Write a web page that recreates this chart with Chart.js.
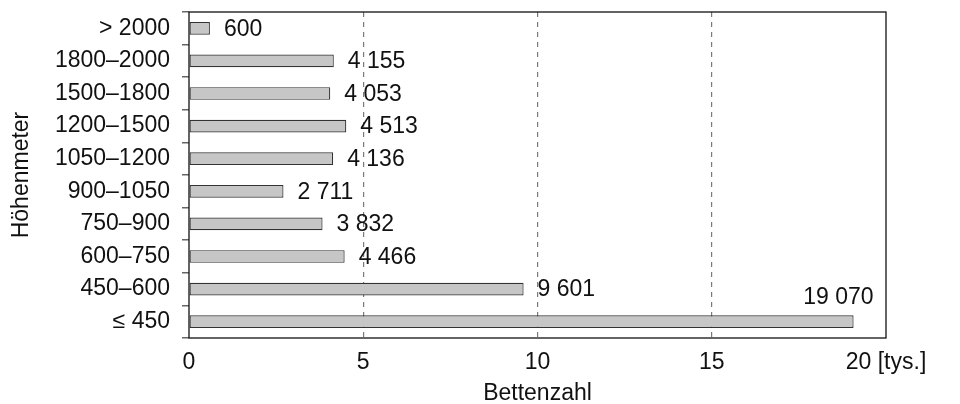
<!DOCTYPE html>
<html lang="de">
<head>
  <meta charset="UTF-8">
  <title>Bettenzahl nach Höhenmeter</title>
  <script src="https://cdn.jsdelivr.net/npm/chart.js"></script>
  <style>
    html, body { margin: 0; padding: 0; background: #fff; }
    .grafico { width: 960px; height: 404px; }
  </style>
</head>
<body>
  <div class="grafico">
    <canvas id="graficoBetten" width="960" height="404"></canvas>
  </div>

  <script>
    // Kategorien von oben nach unten
    const hoehen = ['> 2000', '1800–2000', '1500–1800', '1200–1500', '1050–1200',
      '900–1050', '750–900', '600–750', '450–600', '≤ 450'];
    // Bettenzahl in Tausend
    const betten = [0.600, 4.155, 4.053, 4.513, 4.136, 2.711, 3.832, 4.466, 9.601, 19.070];
    const xTicks = [0, 5, 10, 15, 20];

    const schrift = "'Liberation Sans', Arial, sans-serif";
    const groesse = 23;

    function formatZahl(v) {
      return Math.round(v * 1000).toString().replace(/\B(?=(\d{3})+(?!\d))/g, ' ');
    }

    // Rahmen um die Zeichenfläche
    const rahmen = {
      id: 'rahmen',
      afterDraw(chart) {
        const { ctx, chartArea: a } = chart;
        ctx.save();
        ctx.strokeStyle = '#111';
        ctx.lineWidth = 1.3;
        ctx.strokeRect(a.left, a.top, a.right - a.left, a.bottom - a.top);
        ctx.restore();
      }
    };

    // Werte neben den Balken
    const werte = {
      id: 'werte',
      afterDatasetsDraw(chart) {
        const { ctx, chartArea: a } = chart;
        const meta = chart.getDatasetMeta(0);
        ctx.save();
        ctx.font = groesse + 'px ' + schrift;
        ctx.fillStyle = '#111';
        ctx.textBaseline = 'middle';
        meta.data.forEach((bar, i) => {
          const txt = formatZahl(betten[i]);
          const w = ctx.measureText(txt).width;
          if (bar.x + 15 + w > a.right) {
            ctx.textAlign = 'right';
            ctx.fillText(txt, bar.x + 20, bar.y - 24);
          } else {
            ctx.textAlign = 'left';
            ctx.fillText(txt, bar.x + 14, bar.y + 1);
          }
        });
        ctx.restore();
      }
    };

    const ctx = document.getElementById('graficoBetten');
    new Chart(ctx, {
      type: 'bar',
      data: {
        labels: hoehen,
        datasets: [{
          data: betten,
          backgroundColor: '#c6c6c6',
          borderColor: '#333',
          borderWidth: 1.2,
          borderSkipped: false,
          categoryPercentage: 1,
          barPercentage: 0.39
        }]
      },
      options: {
        indexAxis: 'y',
        responsive: false,
        animation: false,
        devicePixelRatio: 1,
        layout: { padding: { left: 0, right: 74, top: 12, bottom: 0 } },
        plugins: {
          legend: { display: false },
          tooltip: { enabled: false }
        },
        scales: {
          x: {
            min: 0,
            max: 20,
            afterBuildTicks: (s) => { s.ticks = xTicks.map(v => ({ value: v })); },
            afterFit: (s) => { s.height = 66; s.paddingLeft = 0; s.paddingRight = 0; },
            border: { display: false, dash: [5, 5] },
            grid: {
              drawTicks: false,
              color: (c) => (c.tick && (c.tick.value === 0 || c.tick.value === 20)) ? 'rgba(0,0,0,0)' : '#7a7a7a',
              lineWidth: 1.2
            },
            ticks: {
              color: '#111',
              padding: 11,
              maxRotation: 0,
              font: { family: schrift, size: groesse },
              callback: (v) => v === 20 ? '20 [tys.]' : String(v)
            },
            title: {
              display: true,
              text: 'Bettenzahl',
              color: '#111',
              padding: { top: 5, bottom: 0 },
              font: { family: schrift, size: groesse, lineHeight: 0.9 }
            }
          },
          y: {
            afterFit: (s) => { s.width = 189; s.paddingTop = 0; s.paddingBottom = 0; },
            border: { display: false },
            grid: {
              offset: true,
              drawOnChartArea: false,
              tickLength: 7,
              color: '#666',
              lineWidth: 1.5
            },
            ticks: {
              color: '#111',
              padding: 12,
              font: { family: schrift, size: groesse }
            },
            title: {
              display: true,
              text: 'Höhenmeter',
              color: '#111',
              padding: { top: 8, bottom: 4 },
              font: { family: schrift, size: groesse }
            }
          }
        }
      },
      plugins: [rahmen, werte]
    });
  </script>
</body>
</html>
